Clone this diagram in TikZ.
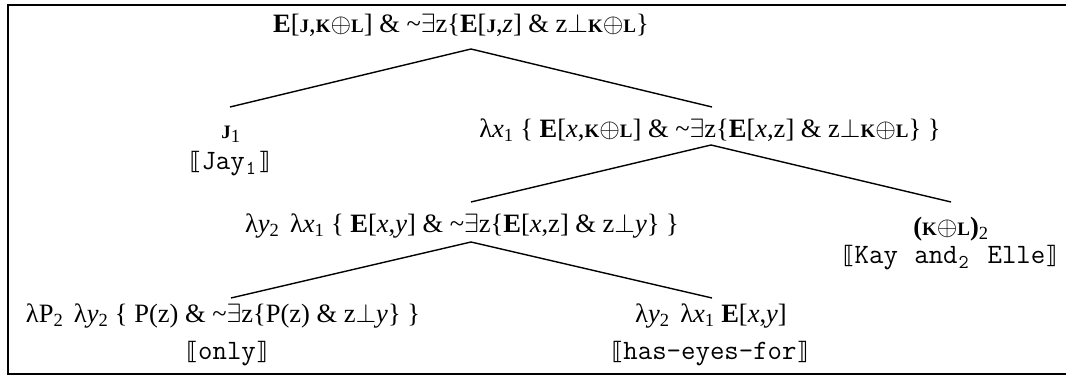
\documentclass[tikz,border=0pt]{standalone}
\usepackage{fix-cm}
\usepackage{fontspec}
\setmainfont{Liberation Serif}
\newfontfamily\brfont{DejaVu Sans}
\newcommand{\bsc}[1]{{\bfseries\fontsize{19}{20}\selectfont #1}}
\newcommand{\gl}[1]{{\brfont\fontsize{24}{26}\selectfont ⟦}{\ttfamily\fontsize{28}{30}\selectfont\addfontfeature{LetterSpace=3}#1}{\brfont\fontsize{24}{26}\selectfont ⟧}}
\newcommand{\msub}[1]{\hspace{1pt}\textsubscript{#1}\hspace{2pt}}
\newcommand{\tld}{\textasciitilde}
\begin{document}
\begin{tikzpicture}[x=1pt,y=1pt,
  lab/.style={anchor=base,inner sep=0pt,font=\fontsize{26.5}{28}\selectfont},
  branch/.style={line width=1.4pt}]
\useasboundingbox (0,0) rectangle (1066,377);
\draw[line width=2pt] (1075,372) -- (7.5,372) -- (7.5,2.5) -- (1075,2.5);
% nodes
\node[lab] (root) at (461,344) {\textbf{E}[\bsc{J},\bsc{K}$\oplus$\bsc{L}] \& \tld$\exists$z\{\textbf{E}[\bsc{J},\textit{z}] \& z$\perp$\bsc{K}$\oplus$\bsc{L}\}};
\node[lab] (j) at (231,238) {\bsc{J}\textsubscript{1}};
\node[lab] (jg) at (230,207) {\gl{Jay\msub{1}}};
\node[lab] (lx) at (710,239) {λ\textit{x}\textsubscript{1} \{ \textbf{E}[\textit{x},\bsc{K}$\oplus$\bsc{L}] \& \tld$\exists$z\{\textbf{E}[\textit{x},z] \& z$\perp$\bsc{K}$\oplus$\bsc{L}\} \}};
\node[lab] (ly) at (462,144) {λ\textit{y}\textsubscript{2}\hspace{4pt} λ\textit{x}\textsubscript{1} \{ \textbf{E}[\textit{x},\textit{y}] \& \tld$\exists$z\{\textbf{E}[\textit{x},z] \& z$\perp$\textit{y}\} \}};
\node[lab] (kl) at (951,141) {\textbf{(}\bsc{K}$\oplus$\bsc{L}\textbf{)}\textsubscript{2}};
\node[lab] (klg) at (950,113) {\gl{Kay\hspace{2pt} and\msub{2}\hspace{2pt} Elle}};
\node[lab] (lp) at (223,54) {λP\textsubscript{2}\hspace{4pt} λ\textit{y}\textsubscript{2} \{ P(z) \& \tld$\exists$z\{P(z) \& z$\perp$\textit{y}\} \}};
\node[lab] (lpg) at (227,17) {\gl{only}};
\node[lab] (he) at (711,54) {λ\textit{y}\textsubscript{2}\hspace{4pt} λ\textit{x}\textsubscript{1} \textbf{E}[\textit{x},\textit{y}]};
\node[lab] (heg) at (710,17) {\gl{has-eyes-for}};
% branches
\draw[branch] ([xshift=-1pt,yshift=32pt]j.base) -- ([xshift=10pt,yshift=-16pt]root.base) -- ([xshift=2pt,yshift=31pt]lx.base);
\draw[branch] ([xshift=9pt,yshift=31pt]ly.base) -- ([xshift=1pt,yshift=-7pt]lx.base) -- ([xshift=0pt,yshift=34pt]kl.base);
\draw[branch] ([xshift=8pt,yshift=25pt]lp.base) -- ([xshift=9pt,yshift=-9pt]ly.base) -- ([xshift=1pt,yshift=25pt]he.base);
\end{tikzpicture}
\end{document}
